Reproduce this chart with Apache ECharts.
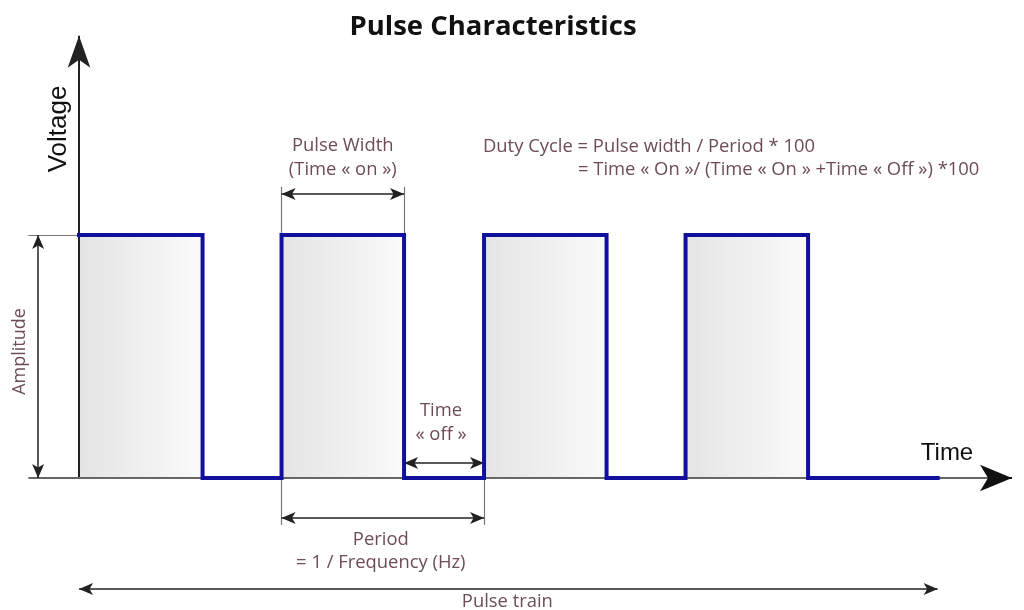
<!DOCTYPE html>
<html><head><meta charset="utf-8">
<script src="https://cdn.jsdelivr.net/npm/echarts@6/dist/echarts.min.js"></script>
<style>html,body{margin:0;padding:0;background:#fff}#c{width:1024px;height:610px}</style>
</head><body><div id="c"></div>
<script>
// ---- data (time in arbitrary units, voltage normalised to amplitude 1) ----
const edgeTimes = [0, 6.1, 10, 16.05, 20, 26.05, 29.95, 36, 42.4];
const levels    = [1, 0, 1, 0, 1, 0, 1, 0, 0];
const pulseWidthSpan = [10, 16.05];
const timeOffSpan    = [16.05, 20];
const periodSpan     = [10, 20];
const trainSpan      = [0, 42.4];
const amplitude      = 1;
const xRange = [-2.5, 46.07];
const yRange = [-0.53, 1.82];

// ---- build series data ----
const pulsePts = [];
for (let i = 0; i < edgeTimes.length; i++) {
  if (i > 0) pulsePts.push([edgeTimes[i], levels[i - 1] * amplitude]);
  pulsePts.push([edgeTimes[i], levels[i] * amplitude]);
}
const fillAreas = [];
for (let i = 0; i < edgeTimes.length - 1; i++) {
  if (levels[i] === 1) fillAreas.push([
    {coord: [edgeTimes[i], 0], itemStyle: {color: {type: 'linear', x: 0, y: 0, x2: 1, y2: 0,
      colorStops: [{offset: 0, color: '#e4e4e4'}, {offset: 1, color: '#fafafa'}]}}},
    {coord: [edgeTimes[i + 1], amplitude]}
  ]);
}

const ANN = '#6d4c57';
const dimArrow = (a, b) => [{coord: a, symbol: 'arrow'}, {coord: b, symbol: 'arrow'}];
const extLine = (a, b) => [{coord: a, symbol: 'none', lineStyle: {color: '#777', width: 1.2}},
                           {coord: b, symbol: 'none'}];

const yPW = 1.169, yPWext = 1.198, yOff = 0.062, yPer = -0.165, yPerExt = -0.193, yTrain = -0.457, xAmp = -2.02;

const chart = echarts.init(document.getElementById('c'), null, {renderer: 'canvas'});
chart.setOption({
  animation: false,
  backgroundColor: '#fff',
  grid: {left: 28.4, right: 12, top: 35.7, bottom: 3.25},
  xAxis: {type: 'value', min: xRange[0], max: xRange[1], show: false},
  yAxis: {type: 'value', min: yRange[0], max: yRange[1], show: false},
  series: [
    {
      type: 'line', z: 1, data: [], silent: true,
      markLine: {
        silent: true, animation: false, label: {show: false},
        lineStyle: {type: 'solid'},
        data: [
          // axes
          [{coord: [0, 0], symbol: 'none', lineStyle: {color: '#222', width: 2}}, {coord: [0, yRange[1]], symbol: 'arrow', symbolSize: [17, 32]}],
          [{coord: [xRange[0], 0], symbol: 'none', lineStyle: {color: '#666', width: 2}}, {coord: [xRange[1] - 0.6, 0], symbol: 'none'}],
          [{coord: [xRange[1] - 0.7, 0], symbol: 'none', lineStyle: {color: '#111', width: 2}}, {coord: [xRange[1], 0], symbol: 'arrow', symbolSize: [20, 32]}],
          // amplitude extension at top
          extLine([xRange[0], amplitude], [0, amplitude]),
          // pulse width extension lines
          extLine([pulseWidthSpan[0], amplitude], [pulseWidthSpan[0], yPWext]),
          extLine([pulseWidthSpan[1], amplitude], [pulseWidthSpan[1], yPWext]),
          // period extension lines
          extLine([periodSpan[0], 0], [periodSpan[0], yPerExt]),
          extLine([periodSpan[1], 0], [periodSpan[1], yPerExt])
        ]
      }
    },
    {
      type: 'line', z: 2, data: [], silent: true,
      markArea: {silent: true, data: fillAreas},
      markLine: {
        silent: true, animation: false, label: {show: false},
        symbolSize: [9, 14],
        lineStyle: {type: 'solid', color: '#222', width: 1.5},
        data: [
          dimArrow([xAmp, 0], [xAmp, amplitude]),
          dimArrow([pulseWidthSpan[0], yPW], [pulseWidthSpan[1], yPW]),
          dimArrow([timeOffSpan[0], yOff], [timeOffSpan[1], yOff]),
          dimArrow([periodSpan[0], yPer], [periodSpan[1], yPer]),
          dimArrow([trainSpan[0], yTrain], [trainSpan[1], yTrain])
        ]
      }
    },
    {
      name: 'Pulse', type: 'line', z: 5, data: pulsePts, showSymbol: false, silent: true,
      lineStyle: {color: '#10109c', width: 4, join: 'miter', cap: 'square'}
    }
  ]
});

const P = (x, y) => chart.convertToPixel({gridIndex: 0}, [x, y]);
const annFont = '18.4px "Open Sans", sans-serif';
const txt = (p, text, opts) => Object.assign({
  type: 'text', x: p[0], y: p[1], silent: true,
  style: Object.assign({text: text, font: annFont, fill: ANN, align: 'center', verticalAlign: 'middle'}, opts && opts.style || {})
}, opts && opts.el || {});

const pwMid = (pulseWidthSpan[0] + pulseWidthSpan[1]) / 2;
const offMid = (timeOffSpan[0] + timeOffSpan[1]) / 2;
const perMid = (periodSpan[0] + periodSpan[1]) / 2;
const trMid = (trainSpan[0] + trainSpan[1]) / 2;
const pPW = P(pwMid, yPW), pOff = P(offMid, yOff), pPer = P(perMid, yPer), pTr = P(trMid, yTrain);
const pAmp = P(xAmp, amplitude / 2);

chart.setOption({
  graphic: [
    {type: 'text', x: 493, y: 27, silent: true, style: {text: 'Pulse Characteristics', font: 'bold 27.5px "Open Sans", sans-serif', fill: '#111', align: 'center', verticalAlign: 'middle'}},
    {type: 'text', x: 59, y: 129, rotation: Math.PI / 2, silent: true, style: {text: 'Voltage', font: '26px "Liberation Sans", Arial, sans-serif', fill: '#111', align: 'center', verticalAlign: 'middle'}},
    {type: 'text', x: 947, y: 453, silent: true, style: {text: 'Time', font: '24px "Liberation Sans", Arial, sans-serif', fill: '#111', align: 'center', verticalAlign: 'middle'}},
    txt([pAmp[0] - 18, pAmp[1] - 5], 'Amplitude', {el: {rotation: Math.PI / 2}, style: {font: '18px "Open Sans", sans-serif'}}),
    txt([pPW[0], pPW[1] - 48], 'Pulse Width'),
    txt([pPW[0], pPW[1] - 24], '(Time « on »)'),
    {type: 'text', x: 483, y: 147, silent: true, style: {text: 'Duty Cycle = Pulse width / Period * 100', font: annFont, fill: ANN, align: 'left', verticalAlign: 'middle'}},
    {type: 'text', x: 578, y: 170, silent: true, style: {text: '= Time « On »/ (Time « On » +Time « Off ») *100', font: annFont, fill: ANN, align: 'left', verticalAlign: 'middle'}},
    txt([pOff[0] - 3, pOff[1] - 52], 'Time'),
    txt([pOff[0] - 3, pOff[1] - 28], '« off »'),
    txt([pPer[0] - 2, pPer[1] + 22], 'Period'),
    txt([pPer[0] - 2, pPer[1] + 45], '= 1 / Frequency (Hz)'),
    txt([pTr[0] - 1, pTr[1] + 13], 'Pulse train')
  ]
});
</script>
</body></html>
